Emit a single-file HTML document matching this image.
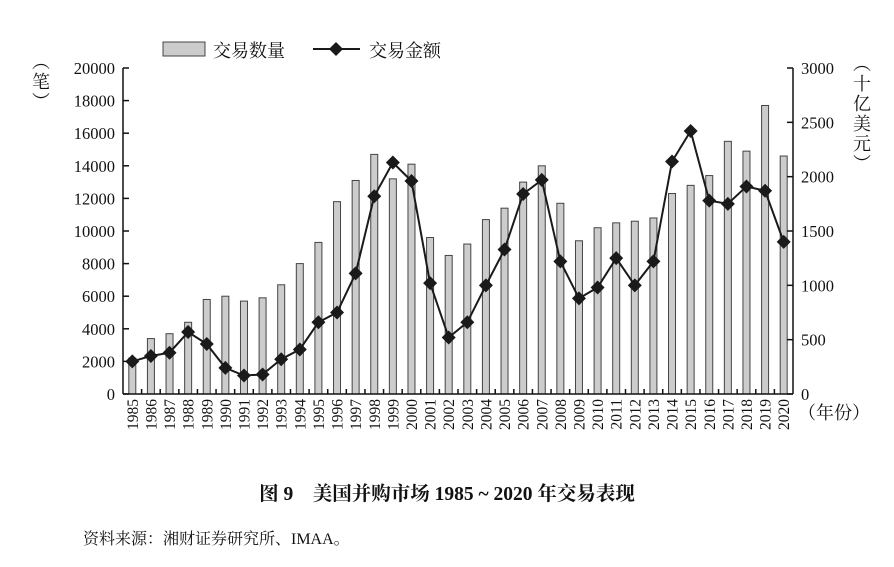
<!DOCTYPE html>
<html><head><meta charset="utf-8">
<style>
body{margin:0;background:#fff;width:894px;height:562px;overflow:hidden;font-family:"Liberation Serif","Noto Serif CJK SC",serif;}
</style></head>
<body>
<svg id="chart" width="894" height="562" xmlns="http://www.w3.org/2000/svg" font-family="Liberation Serif, Noto Serif CJK SC, serif"></svg>
<script>
const years = [];
for (let y = 1985; y <= 2020; y++) years.push(String(y));
const dealCounts = [2200,3400,3700,4400,5800,6000,5700,5900,6700,8000,9300,11800,13100,14700,13200,14100,9600,8500,9200,10700,11400,13000,14000,11700,9400,10200,10500,10600,10800,12300,12800,13400,15500,14900,17700,14600];
const dealValues = [300,350,380,570,460,240,170,180,320,410,660,750,1110,1820,2130,1960,1020,520,660,1000,1330,1840,1970,1220,880,980,1250,1000,1220,2140,2420,1780,1750,1910,1870,1400];
const leftTicks = [0,2000,4000,6000,8000,10000,12000,14000,16000,18000,20000];
const rightTicks = [0,500,1000,1500,2000,2500,3000];

const svg = document.getElementById('chart');
const NS = 'http://www.w3.org/2000/svg';
const X0 = 123, X1 = 793, Y0 = 394, Y1 = 68;
const band = (X1 - X0) / years.length;
const xC = i => X0 + band * (i + 0.5);
const yL = v => Y0 - (v / 20000) * (Y0 - Y1);
const yR = v => Y0 - (v / 3000) * (Y0 - Y1);
function mk(tag, attrs, parent) {
  const e = document.createElementNS(NS, tag);
  for (const k in attrs) e.setAttribute(k, attrs[k]);
  (parent || svg).appendChild(e);
  return e;
}
function txt(s, attrs, parent) { const t = mk('text', attrs, parent); t.textContent = s; return t; }

const gBars = mk('g', {});


dealCounts.forEach((v, i) => {
  const r = mk('rect', {x: xC(i) - 3.5, y: yL(v), width: 7, height: Y0 - yL(v), fill: '#cccccc', stroke: '#444', 'stroke-width': 1}, gBars);
  
  
});

const ax = mk('g', {stroke: '#111', 'stroke-width': 1.5, fill: 'none'});


mk('line', {x1: X0, y1: Y1, x2: X0, y2: Y0}, ax);
mk('line', {x1: X1, y1: Y1, x2: X1, y2: Y0}, ax);
mk('line', {x1: X0, y1: Y0, x2: X1, y2: Y0}, ax);
leftTicks.forEach(v => {
  mk('line', {x1: X0, y1: yL(v), x2: X0 + 6, y2: yL(v)}, ax);
  const t = txt(String(v), {x: X0 - 8, y: yL(v) + 6, 'text-anchor': 'end', 'font-size': 16.5, fill: '#111', stroke: 'none'});
  
  
});
rightTicks.forEach(v => {
  mk('line', {x1: X1, y1: yR(v), x2: X1 - 6, y2: yR(v)}, ax);
  const t = txt(String(v), {x: X1 + 8, y: yR(v) + 6, 'text-anchor': 'start', 'font-size': 16.5, fill: '#111', stroke: 'none'});
  
  
});
for (let i = 1; i < years.length; i++) {
  mk('line', {x1: X0 + band * i, y1: Y0, x2: X0 + band * i, y2: Y0 - 5}, ax);
}
years.forEach((y, i) => {
  const t = txt(y, {x: 0, y: 0, transform: `translate(${xC(i) + 5.5},${Y0 + 5}) rotate(-90)`, 'text-anchor': 'end', 'font-size': 15.5, fill: '#111', stroke: 'none'});
  
  
});

const gLine = mk('g', {});


mk('polyline', {points: dealValues.map((v, i) => xC(i) + ',' + yR(v)).join(' '), fill: 'none', stroke: '#1a1a1a', 'stroke-width': 2}, gLine);
dealValues.forEach((v, i) => {
  const x = xC(i), y = yR(v);
  const p = mk('polygon', {points: `${x},${y-7} ${x+7},${y} ${x},${y+7} ${x-7},${y}`, fill: '#1a1a1a'}, gLine);
  
  
});

const lg = mk('g', {});


mk('rect', {x: 163, y: 42, width: 42, height: 14, fill: '#cccccc', stroke: '#444', 'stroke-width': 1}, lg);
txt('交易数量', {x: 213, y: 57, 'font-size': 18, fill: '#111'}, lg);
mk('line', {x1: 313, y1: 49, x2: 360, y2: 49, stroke: '#1a1a1a', 'stroke-width': 2}, lg);
mk('polygon', {points: '336,42 343,49 336,56 329,49', fill: '#1a1a1a'}, lg);
txt('交易金额', {x: 369, y: 57, 'font-size': 18, fill: '#111'}, lg);

const lt = mk('g', {'font-size': 18, fill: '#111', 'text-anchor': 'middle'});


['︵','笔','︶'].forEach((c, i) => txt(c, {x: 41, y: 68 + i * 20}, lt));
const rt = mk('g', {'font-size': 18, fill: '#111', 'text-anchor': 'middle'});


['︵','十','亿','美','元','︶'].forEach((c, i) => txt(c, {x: 862, y: 70 + i * 20}, rt));
const xt = txt('（年份）', {x: 798, y: 419, 'font-size': 18, fill: '#111'});



const title = txt('图 9　美国并购市场 1985 ~ 2020 年交易表现', {x: 447, y: 500, 'text-anchor': 'middle', 'font-size': 19.5, 'font-weight': 'bold', fill: '#111'});


const src = txt('资料来源：湘财证券研究所、IMAA。', {x: 83, y: 544, 'font-size': 16, fill: '#111'});


</script>
</body></html>
